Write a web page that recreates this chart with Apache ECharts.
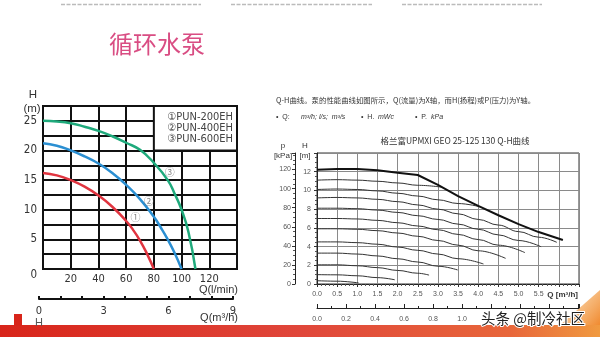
<!DOCTYPE html>
<html><head><meta charset="utf-8">
<script src="https://cdn.jsdelivr.net/npm/echarts@6/dist/echarts.min.js"></script>
<style>html,body{margin:0;padding:0;background:#fff}#c{width:600px;height:337px}</style>
</head><body><div id="c"></div>
<script>
// ---------- Left chart: PUN pumps, Q (l/min) vs H (m) ----------
const pun200Q = [0, 10, 20, 30, 40, 50, 60, 65, 70, 75, 80];
const pun200H = [16.2, 15.8, 15.0, 13.9, 12.4, 10.5, 8.1, 6.6, 4.8, 2.6, 0];
const pun400Q = [0, 10, 20, 30, 40, 50, 60, 70, 80, 85, 90, 95, 100];
const pun400H = [21.2, 20.8, 20.0, 19.0, 17.8, 16.2, 14.2, 11.8, 8.8, 7.0, 5.0, 2.7, 0];
const pun600Q = [0, 10, 20, 30, 40, 50, 60, 70, 80, 90, 95, 100, 105, 110];
const pun600H = [25.0, 24.9, 24.6, 24.0, 23.3, 22.4, 21.3, 20.1, 17.9, 15.0, 12.7, 10.0, 6.2, 0];
const pumpNames = ['①PUN-200EH', '②PUN-400EH', '③PUN-600EH'];
const curveTags = [['①', 66.7, 8.7], ['②', 76.3, 11.5], ['③', 91.4, 16.3]];
const leftYLabels = [0, 5, 10, 15, 20, 25];
const leftXLabels = [20, 40, 60, 80, 100, 120];
const m3hLabels = [0, 3, 6, 9];

// ---------- Right chart: Grundfos UPMXI GEO 25-125 130 Q-H ----------
const maxCurve = [[0,12.2],[0.5,12.3],[1.0,12.3],[1.5,12.15],[2.0,11.9],[2.5,11.65],[3.0,10.6],[3.5,9.4],[4.0,8.35],[4.5,7.35],[5.0,6.4],[5.5,5.55],[6.1,4.7]];
const speed11 = [[0,11.1],[0.5,11.15],[1.0,11.1],[1.5,10.98],[2.0,10.8],[2.5,10.55],[3.1,10.35]];
const speed10 = [[0,10.1],[0.5,10.15],[1.0,10.1],[1.5,9.95],[2.0,9.7],[2.5,9.4],[3.0,9.0],[3.5,8.6],[4.05,8.25]];
const speed9 = [[0,9.2],[0.5,9.25],[1.0,9.2],[1.5,9.05],[2.0,8.8],[2.5,8.45],[3.0,8.0],[3.5,7.5],[4.0,6.9],[4.5,6.3],[5.0,5.6],[5.5,5.0],[5.95,4.45]];
const speed8 = [[0,8.1],[0.5,8.1],[1.0,8.05],[1.5,7.9],[2.0,7.65],[2.5,7.3],[3.0,6.9],[3.5,6.4],[4.0,5.85],[4.5,5.25],[5.0,4.65],[5.56,3.98]];
const speed7 = [[0,7.0],[0.5,7.0],[1.0,6.95],[1.5,6.8],[2.0,6.55],[2.5,6.2],[3.0,5.8],[3.5,5.3],[4.0,4.75],[4.5,4.15],[5.16,3.35]];
const speed6 = [[0,5.9],[0.5,5.9],[1.0,5.85],[1.5,5.7],[2.0,5.45],[2.5,5.1],[3.0,4.65],[3.5,4.15],[4.0,3.55],[4.68,2.74]];
const speed5 = [[0,4.5],[0.5,4.5],[1.0,4.42],[1.5,4.25],[2.0,3.95],[2.5,3.6],[3.0,3.2],[3.5,2.7],[4.13,2.14]];
const speed4 = [[0,3.3],[0.5,3.3],[1.0,3.2],[1.5,3.0],[2.0,2.7],[2.5,2.35],[3.0,1.9],[3.49,1.5]];
const speed3 = [[0,2.05],[0.5,2.05],[1.0,1.95],[1.5,1.75],[2.0,1.45],[2.5,1.15],[2.78,0.95]];
const speed2 = [[0,1.0],[0.5,0.98],[1.0,0.88],[1.5,0.68],[1.93,0.45]];
const speed1 = [[0,0.35],[0.5,0.3],[1.03,0.12]];
const speedCurves = [speed11, speed10, speed9, speed8, speed7, speed6, speed5, speed4, speed3, speed2, speed1];
const rightQLabels = [0, 0.5, 1.0, 1.5, 2.0, 2.5, 3.0, 3.5, 4.0, 4.5, 5.0, 5.5];
const rightHLabels = [0, 2, 4, 6, 8, 10, 12];
const kpaLabels = [0, 20, 40, 60, 80, 100, 120];
const lsLabels = [0, 0.2, 0.4, 0.6, 0.8, 1.0];

const zip = (xs, ys) => xs.map((x, i) => [x, ys[i]]);
const near = (arr, v) => arr.some(a => Math.abs(a - v) < 1e-6);
const SANS = 'Liberation Sans, Arial, sans-serif';
const NARROW = '"Liberation Sans Narrow", "Arial Narrow", "DejaVu Sans Condensed", sans-serif';
const CJK = 'Noto Sans CJK SC, sans-serif';

const chart = echarts.init(document.getElementById('c'));

const leftCurveStyle = c => ({type: 'line', xAxisIndex: 0, yAxisIndex: 0, z: 10, smooth: true, symbol: 'none', silent: true, lineStyle: {color: c, width: 2.5}});

const series = [
  Object.assign(leftCurveStyle('#e0343f'), {data: zip(pun200Q, pun200H)}),
  Object.assign(leftCurveStyle('#2b8fd2'), {data: zip(pun400Q, pun400H)}),
  Object.assign(leftCurveStyle('#1faa7c'), {data: zip(pun600Q, pun600H),
    markArea: {silent: true, itemStyle: {color: '#fff', borderColor: '#111', borderWidth: 2},
      label: {show: true, position: 'inside', formatter: pumpNames.join('\n'), fontFamily: NARROW, fontSize: 11, lineHeight: 10.7, color: '#444', align: 'left', verticalAlign: 'middle', offset: [-28, 0]},
      data: [[{coord: [80, 20]}, {coord: [140, 27.5]}]]}}),
  {type: 'scatter', xAxisIndex: 0, yAxisIndex: 0, z: 11, symbolSize: 0, silent: true,
    data: curveTags.map(t => ({value: [t[1], t[2]], name: t[0]})),
    label: {show: true, position: 'inside', formatter: p => p.name, fontSize: 10, color: '#666', fontFamily: CJK}},
  {type: 'line', xAxisIndex: 2, yAxisIndex: 2, z: 10, data: maxCurve, symbol: 'none', silent: true, lineStyle: {color: '#111', width: 2}}
];
speedCurves.forEach(c => series.push({type: 'line', xAxisIndex: 2, yAxisIndex: 2, z: 9, data: c, smooth: 0.4, smoothMonotone: 'x', symbol: 'none', silent: true, lineStyle: {color: '#333', width: 1}}));

chart.setOption({
  animation: false,
  backgroundColor: '#fff',
  title: [
    {text: '循环水泵', left: 104, top: 27, textStyle: {fontFamily: CJK, fontSize: 24, fontWeight: 'normal', color: '#d94d83'}},
    {text: '格兰富UPMXI GEO 25-125 130 Q-H曲线', left: 450, top: 132, textAlign: 'center', textStyle: {fontFamily: CJK, fontSize: 8.5, fontWeight: 'normal', color: '#333'}}
  ],
  grid: [
    {left: 43, top: 106, width: 194, height: 163, show: true, borderColor: '#111', borderWidth: 2},
    {left: 39, top: 298, width: 194, height: 1},
    {left: 317, top: 153, width: 262, height: 131, show: true, borderColor: '#333', borderWidth: 1},
    {left: 317, top: 307, width: 262, height: 1}
  ],
  xAxis: [
    {gridIndex: 0, type: 'value', min: 0, max: 140, interval: 20,
      axisLine: {show: false}, axisTick: {show: false},
      splitLine: {lineStyle: {color: '#111', width: 2}},
      axisLabel: {formatter: v => near(leftXLabels, v) ? String(v) : '', fontFamily: NARROW, fontSize: 11, color: '#333', margin: 5}},
    {gridIndex: 1, type: 'value', min: 0, max: 9, interval: 1,
      axisLine: {lineStyle: {color: '#111', width: 2}},
      axisTick: {inside: true, length: 3, lineStyle: {color: '#111', width: 2}},
      splitLine: {show: false},
      axisLabel: {formatter: v => near(m3hLabels, v) ? String(v) : '', fontFamily: NARROW, fontSize: 11, color: '#333', margin: 7}},
    {gridIndex: 2, type: 'value', min: 0, max: 6.5, interval: 0.5,
      axisLine: {lineStyle: {color: '#222', width: 1}},
      axisTick: {show: true, length: 3, lineStyle: {color: '#333'}},
      minorTick: {show: true, splitNumber: 5, length: 2, lineStyle: {color: '#555'}},
      splitLine: {lineStyle: {color: '#8a8a8a', width: 1}},
      axisLabel: {formatter: v => near(rightQLabels, v) ? v.toFixed(1) : '', fontFamily: SANS, fontSize: 7, color: '#555', margin: 7}},
    {gridIndex: 3, type: 'value', min: 0, max: 6.5 / 3.6, interval: 0.2,
      axisLine: {lineStyle: {color: '#222', width: 1}},
      axisTick: {inside: true, length: 4, lineStyle: {color: '#222'}},
      minorTick: {show: true, splitNumber: 2, length: 2, lineStyle: {color: '#222'}},
      splitLine: {show: false},
      axisLabel: {formatter: v => near(lsLabels, v) ? v.toFixed(1) : '', fontFamily: SANS, fontSize: 7, color: '#555', margin: 8, showMaxLabel: false}}
  ],
  yAxis: [
    {gridIndex: 0, type: 'value', min: 0, max: 27.5, interval: 2.5,
      axisLine: {show: false}, axisTick: {show: false},
      splitLine: {lineStyle: {color: '#111', width: 2}},
      axisLabel: {formatter: v => v === 0 ? '{z|0}' : (near(leftYLabels, v) ? String(v) : ''), fontFamily: NARROW, fontSize: 11.5, color: '#333', margin: 6,
        rich: {z: {fontFamily: NARROW, fontSize: 11.5, color: '#333', padding: [13, 0, 0, 0]}}}},
    {gridIndex: 1, type: 'value', show: false},
    {gridIndex: 2, type: 'value', min: 0, max: 14, interval: 2,
      axisLine: {lineStyle: {color: '#222'}},
      axisTick: {show: true, length: 3, lineStyle: {color: '#333'}},
      minorTick: {show: true, splitNumber: 4, length: 2, lineStyle: {color: '#555'}},
      splitLine: {lineStyle: {color: '#8a8a8a', width: 1}},
      axisLabel: {formatter: v => near(rightHLabels, v) ? String(v) : '', fontFamily: SANS, fontSize: 7, color: '#555', margin: 6}},
    {gridIndex: 2, type: 'value', position: 'left', offset: 22, min: 0, max: 14 * 9.807, interval: 20,
      axisLine: {show: true, lineStyle: {color: '#222'}},
      axisTick: {show: true, length: 3, lineStyle: {color: '#333'}},
      minorTick: {show: true, splitNumber: 4, length: 2, lineStyle: {color: '#555'}},
      splitLine: {show: false},
      axisLabel: {formatter: v => near(kpaLabels, v) ? String(v) : '', fontFamily: SANS, fontSize: 7, color: '#555', margin: 4}},
    {gridIndex: 3, type: 'value', show: false}
  ],
  graphic: [
    {type: 'line', shape: {x1: 61, y1: 4.5, x2: 201, y2: 4.5}, style: {stroke: '#bbb', lineWidth: 1.5, lineDash: [4, 1.5]}},
    {type: 'line', shape: {x1: 231, y1: 4.5, x2: 372, y2: 4.5}, style: {stroke: '#bbb', lineWidth: 1.5, lineDash: [4, 1.5]}},
    {type: 'line', shape: {x1: 402, y1: 4.5, x2: 542, y2: 4.5}, style: {stroke: '#bbb', lineWidth: 1.5, lineDash: [4, 1.5]}},
    // axis titles
    {type: 'text', x: 33, y: 95, style: {text: 'H', font: '11.5px "Liberation Sans Narrow", "Liberation Sans"', fill: '#333', textAlign: 'center', textVerticalAlign: 'middle'}},
    {type: 'text', x: 32, y: 108.5, style: {text: '(m)', font: '11.5px "Liberation Sans Narrow", "Liberation Sans"', fill: '#333', textAlign: 'center', textVerticalAlign: 'middle'}},
    {type: 'text', x: 238, y: 289.5, style: {text: 'Q(l/min)', font: '11px "Liberation Sans Narrow", "Liberation Sans"', fill: '#333', textAlign: 'right', textVerticalAlign: 'middle'}},
    {type: 'text', x: 238, y: 317.5, style: {text: 'Q(m³/h)', font: '11px "Liberation Sans Narrow", "Liberation Sans"', fill: '#333', textAlign: 'right', textVerticalAlign: 'middle'}},
    {type: 'text', x: 283, y: 146, style: {text: 'p', font: '8px "Liberation Sans"', fill: '#333', textAlign: 'center', textVerticalAlign: 'middle'}},
    {type: 'text', x: 283, y: 156, style: {text: '[kPa]', font: '8px "Liberation Sans"', fill: '#333', textAlign: 'center', textVerticalAlign: 'middle'}},
    {type: 'text', x: 305, y: 146, style: {text: 'H', font: '8px "Liberation Sans"', fill: '#333', textAlign: 'center', textVerticalAlign: 'middle'}},
    {type: 'text', x: 305, y: 156, style: {text: '[m]', font: '8px "Liberation Sans"', fill: '#333', textAlign: 'center', textVerticalAlign: 'middle'}},
    {type: 'text', x: 578, y: 295, style: {text: 'Q [m³/h]', font: 'bold 8px "Liberation Sans"', fill: '#333', textAlign: 'right', textVerticalAlign: 'middle'}},
    // slide text
    {type: 'text', left: 276, top: 96, style: {text: 'Q-H曲线。泵的性能曲线如图所示，Q(流量)为X轴，而H(扬程)或P(压力)为Y轴。', font: '7.4px "Noto Sans CJK SC"', fill: '#333'}},
    {type: 'text', left: 276, top: 114, style: {text: '•  Q:', font: '7px "Liberation Sans"', fill: '#333'}},
    {type: 'text', left: 301, top: 114, style: {text: 'm³/h; l/s;  m³/s', font: 'italic 7px "Liberation Sans"', fill: '#333'}},
    {type: 'text', left: 361, top: 114, style: {text: '•  H.', font: '7px "Liberation Sans"', fill: '#333'}},
    {type: 'text', left: 378, top: 114, style: {text: 'mWc', font: 'italic 7px "Liberation Sans"', fill: '#333'}},
    {type: 'text', left: 415, top: 114, style: {text: '•  P.', font: '7px "Liberation Sans"', fill: '#333'}},
    {type: 'text', left: 431, top: 114, style: {text: 'kPa', font: 'italic 7px "Liberation Sans"', fill: '#333'}},
    {type: 'rect', shape: {x: 0, y: 325, width: 600, height: 12}, style: {fill: new echarts.graphic.LinearGradient(0, 0, 1, 0, [{offset: 0, color: '#d8251a'}, {offset: 0.5, color: '#e0463a'}, {offset: 0.85, color: '#e8663a'}, {offset: 1, color: '#f09a40'}])}},
    {type: 'rect', shape: {x: 14, y: 314, width: 8, height: 12}, style: {fill: '#d8251a'}},
    {type: 'polygon', shape: {points: [[560, 325], [600, 290], [600, 325]]}, style: {fill: new echarts.graphic.LinearGradient(0, 0, 1, 1, [{offset: 0, color: 'rgba(245,170,80,0.3)'}, {offset: 1, color: '#f08a30'}])}},
    {type: 'text', left: 35, top: 317, style: {text: 'H', font: '11px "Liberation Sans"', fill: '#555'}},
    {type: 'text', left: 480, top: 310, z: 100, style: {text: '头条 @制冷社区', font: '14.5px "Noto Sans CJK SC"', fill: '#222', stroke: '#fff', lineWidth: 2}}
  ],
  series: series
});
</script></body></html>
